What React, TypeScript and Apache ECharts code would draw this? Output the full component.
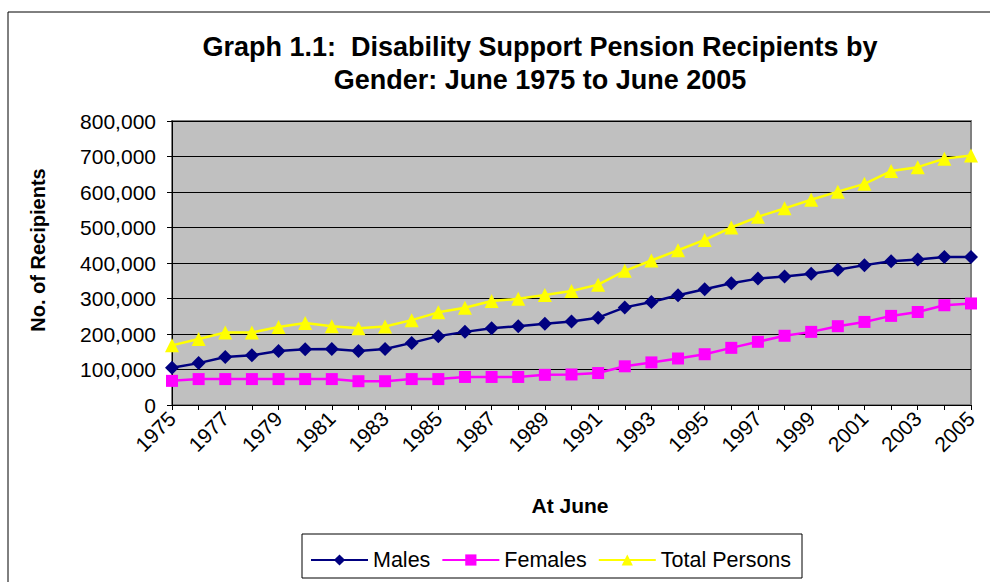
import React, { useEffect, useRef } from "react";
import * as echarts from "echarts";

const years: string[] = [
  "1975","1976","1977","1978","1979","1980","1981","1982","1983","1984",
  "1985","1986","1987","1988","1989","1990","1991","1992","1993","1994",
  "1995","1996","1997","1998","1999","2000","2001","2002","2003","2004","2005",
];

const males: number[] = [
  105000,118000,135000,140000,152000,157000,158000,152000,158000,175000,
  194000,206000,216000,222000,229000,235000,246000,275000,290000,309000,
  326000,343000,356000,362000,370000,381000,394000,405000,410000,417000,417000,
];

const females: number[] = [
  68000,73000,73000,73000,73000,73000,73000,67000,67000,73000,
  73000,79000,79000,79000,85000,86000,90000,109000,120000,131000,
  143000,161000,178000,195000,206000,222000,234000,251000,262000,281000,286000,
];

const totals: number[] = [
  168000,186000,204000,204000,220000,231000,222000,216000,221000,239000,
  261000,274000,293000,299000,310000,321000,339000,378000,407000,436000,
  465000,500000,530000,554000,578000,601000,623000,659000,670000,694000,703000,
];

const titleLines: string[] = [
  "Graph 1.1:  Disability Support Pension Recipients by",
  "Gender: June 1975 to June 2005",
];

const FONT = "Liberation Sans, Arial, sans-serif";

export default function App() {
  const ref = useRef<HTMLDivElement>(null);
  useEffect(() => {
    document.body.style.margin = "0";
    if (!ref.current) return;
    const chart = echarts.init(ref.current, undefined, { renderer: "svg" });
    chart.setOption({
      animation: false,
      backgroundColor: "#ffffff",
      textStyle: { fontFamily: FONT, color: "#000" },
      graphic: [
        {
          type: "rect",
          shape: { x: 8, y: 12, width: 1000, height: 600 },
          style: { fill: "none", stroke: "#000", lineWidth: 1 },
          z: -10,
        },
        {
          type: "text",
          x: 540,
          y: 47,
          style: {
            text: titleLines[0],
            font: `bold 27px ${FONT}`,
            fill: "#000",
            textAlign: "center",
            textVerticalAlign: "middle",
          },
        },
        {
          type: "text",
          x: 540,
          y: 80,
          style: {
            text: titleLines[1],
            font: `bold 27px ${FONT}`,
            fill: "#000",
            textAlign: "center",
            textVerticalAlign: "middle",
          },
        },
        {
          type: "text",
          x: 38,
          y: 250,
          rotation: Math.PI / 2,
          style: {
            text: "No. of Recipients",
            font: `bold 20px ${FONT}`,
            fill: "#000",
            textAlign: "center",
            textVerticalAlign: "middle",
          },
        },
        {
          type: "text",
          x: 570,
          y: 505,
          style: {
            text: "At June",
            font: `bold 21px ${FONT}`,
            fill: "#000",
            textAlign: "center",
            textVerticalAlign: "middle",
          },
        },
        {
          type: "rect",
          shape: { x: 302, y: 534, width: 500, height: 44 },
          style: { fill: "#fff", stroke: "#000", lineWidth: 1 },
          z: 1,
        },
      ],
      legend: {
        left: 310,
        top: 549,
        padding: 0,
        itemWidth: 57,
        itemHeight: 14,
        itemGap: 11,
        z: 5,
        textStyle: { fontFamily: FONT, fontSize: 21.5, color: "#000" },
        data: ["Males", "Females", "Total Persons"],
      },
      grid: {
        left: 172,
        right: 19,
        top: 121,
        bottom: 177,
        show: true,
        backgroundColor: "#C0C0C0",
        borderColor: "#808080",
        borderWidth: 2,
      },
      xAxis: {
        type: "category",
        data: years,
        boundaryGap: false,
        axisLine: { lineStyle: { color: "#000", width: 1 } },
        axisTick: { show: true, interval: 0, length: 5, lineStyle: { color: "#000" } },
        axisLabel: {
          interval: 1,
          rotate: 45,
          margin: 10,
          fontFamily: FONT,
          fontSize: 21,
          color: "#000",
        },
        splitLine: { show: false },
      },
      yAxis: {
        type: "value",
        min: 0,
        max: 800000,
        interval: 100000,
        axisLine: { show: true, lineStyle: { color: "#000", width: 1 } },
        axisTick: { show: true, length: 5, lineStyle: { color: "#000" } },
        axisLabel: {
          margin: 16,
          fontFamily: FONT,
          fontSize: 21,
          color: "#000",
          formatter: (v: number) => v.toLocaleString("en-US"),
        },
        splitLine: { show: true, lineStyle: { color: "#000", width: 1 } },
      },
      series: [
        {
          name: "Males",
          type: "line",
          data: males,
          symbol: "diamond",
          symbolSize: 14,
          itemStyle: { color: "#000080" },
          lineStyle: { color: "#000080", width: 2.5 },
        },
        {
          name: "Females",
          type: "line",
          data: females,
          symbol: "rect",
          symbolSize: 12,
          itemStyle: { color: "#FF00FF" },
          lineStyle: { color: "#FF00FF", width: 2.5 },
        },
        {
          name: "Total Persons",
          type: "line",
          data: totals,
          symbol: "triangle",
          symbolSize: 14,
          itemStyle: { color: "#FFFF00" },
          lineStyle: { color: "#FFFF00", width: 2.5 },
        },
      ],
    });
    return () => chart.dispose();
  }, []);
  return <div ref={ref} style={{ width: 990, height: 582 }} />;
}
